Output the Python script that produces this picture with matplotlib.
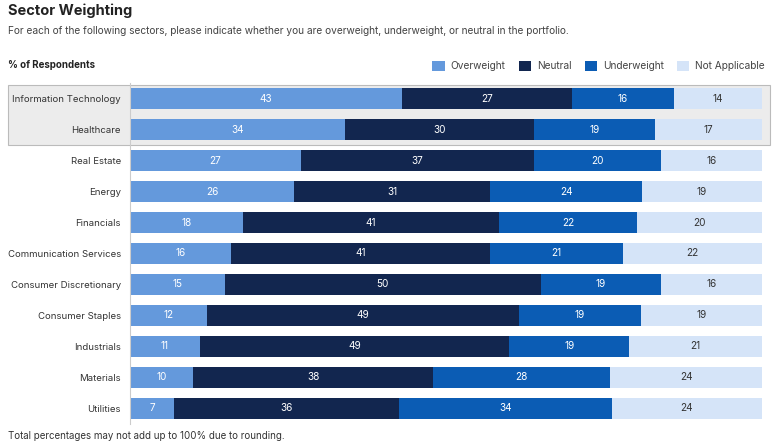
import matplotlib.pyplot as plt
from matplotlib.patches import Patch, Rectangle
import numpy as np

plt.rcParams['font.family'] = ['Inter', 'DejaVu Sans']

sectors = ["Information Technology", "Healthcare", "Real Estate", "Energy", "Financials",
           "Communication Services", "Consumer Discretionary", "Consumer Staples",
           "Industrials", "Materials", "Utilities"]
overweight = [43, 34, 27, 26, 18, 16, 15, 12, 11, 10, 7]
neutral = [27, 30, 37, 31, 41, 41, 50, 49, 49, 38, 36]
underweight = [16, 19, 20, 24, 22, 21, 19, 19, 19, 28, 34]
not_applicable = [14, 17, 16, 19, 20, 22, 16, 19, 21, 24, 24]

series = [("Overweight", overweight, "#6499dc", "white"),
          ("Neutral", neutral, "#12264f", "white"),
          ("Underweight", underweight, "#0b5cb4", "white"),
          ("Not Applicable", not_applicable, "#d5e4f8", "#333333")]

W, H = 779, 442
fig = plt.figure(figsize=(W / 100, H / 100), dpi=100)
ax = fig.add_axes([130 / W, (H - 423.5) / H, 632 / W, 340 / H])
ax.patch.set_alpha(0)

# bars are scaled to 100% per row (rounded values may not add up to 100)
totals = np.sum([s[1] for s in series], axis=0)
y = np.arange(len(sectors))
left = np.zeros(len(sectors))
for name, vals, col, tcol in series:
    share = np.array(vals) / totals * 100
    bars = ax.barh(y, share, left=left, height=0.68, color=col, zorder=2)
    for b, v in zip(bars, vals):
        ax.text(b.get_x() + b.get_width() / 2, b.get_y() + b.get_height() / 2, str(v),
                ha="center", va="center", color=tcol, fontsize=7.2, zorder=3)
    left += share

ax.set_xlim(0, 100)
ax.set_ylim(len(sectors) - 0.5, -0.5)
ax.set_yticks(y)
ax.set_yticklabels(sectors, fontsize=6.9, color="#333333")
ax.tick_params(axis="y", length=0, pad=6.5)
ax.set_xticks([])
for s in ["top", "right", "bottom"]:
    ax.spines[s].set_visible(False)
ax.spines["left"].set_color("#cccccc")
ax.spines["left"].set_linewidth(0.8)

# highlighted box behind the top two rows
x0 = (8 - 130) / 6.32
x1 = (770 - 130) / 6.32
ax.add_patch(Rectangle((x0, -0.45), x1 - x0, 1.94, facecolor="#ececec",
                       edgecolor="#bbbbbb", linewidth=0.8, clip_on=False, zorder=0))

fig.text(8 / W, 1 - 11 / H, "Sector Weighting", fontsize=10.5, fontweight="bold",
         color="#222222", va="center")
fig.text(8 / W, 1 - 31 / H,
         "For each of the following sectors, please indicate whether you are overweight, underweight, or neutral in the portfolio.",
         fontsize=7.3, color="#444444", va="center")
fig.text(8 / W, 1 - 65 / H, "% of Respondents", fontsize=7, fontweight="bold",
         color="#222222", va="center")
fig.text(8 / W, 1 - 436 / H, "Total percentages may not add up to 100% due to rounding.",
         fontsize=7, color="#333333", va="center")

handles = [Patch(facecolor=c, label=n) for n, _, c, _ in series]
fig.legend(handles=handles, loc="center right", bbox_to_anchor=(774 / W, 1 - 66 / H),
           ncol=4, frameon=False, fontsize=7.3, handlelength=1.2, handleheight=1.2,
           columnspacing=1.3, handletextpad=0.6, labelcolor="#444444")

fig.savefig("out.png", dpi=100)
